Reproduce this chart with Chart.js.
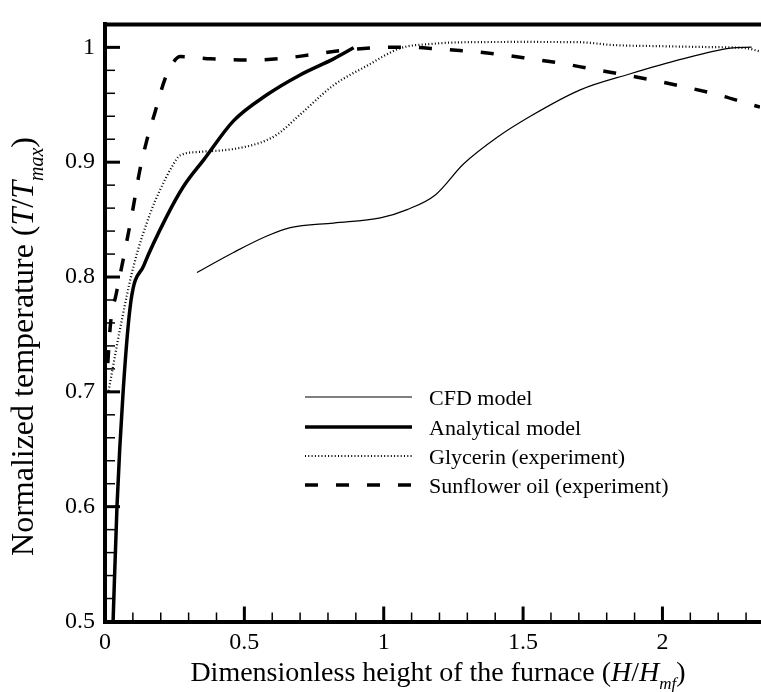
<!DOCTYPE html>
<html>
<head>
<meta charset="utf-8">
<script src="https://cdn.jsdelivr.net/npm/chart.js@4.4.1/dist/chart.umd.min.js"></script>
<style>
  html, body { margin: 0; padding: 0; background: #fff; }
  #wrap { width: 761px; height: 692px; }
</style>
</head>
<body>
<div id="wrap"><canvas id="chart" width="761" height="692"></canvas></div>
<script>
// tick labels
const xTickValues = [0, 0.5, 1, 1.5, 2];
const yTickValues = [0.5, 0.6, 0.7, 0.8, 0.9, 1];

// CFD model (thin solid)
const cfdX = [0.33, 0.461, 0.581, 0.665, 0.82, 0.988, 1.084, 1.185, 1.287, 1.406, 1.526, 1.705, 1.885, 2.065, 2.244, 2.32];
const cfdY = [0.804, 0.8214, 0.8357, 0.843, 0.847, 0.8515, 0.8587, 0.8715, 0.8986, 0.9215, 0.940, 0.963, 0.977, 0.9895, 0.9993, 1.0002];

// Analytical model (thick solid)
const analyticalX = [0.029, 0.043, 0.065, 0.093, 0.139, 0.222, 0.282, 0.354, 0.461, 0.581, 0.70, 0.82, 0.892];
const analyticalY = [0.5, 0.6, 0.7, 0.779, 0.81, 0.853, 0.879, 0.902, 0.936, 0.9587, 0.976, 0.990, 0.9996];

// Glycerin (experiment), dotted
const glycerinX = [0.013, 0.055, 0.103, 0.163, 0.198, 0.24, 0.27, 0.342, 0.461, 0.557, 0.617, 0.70, 0.82, 0.94, 1.06, 1.17, 1.3, 1.5, 1.7, 1.825, 2.0, 2.18, 2.30, 2.35];
const glycerinY = [0.701, 0.756, 0.81, 0.856, 0.876, 0.896, 0.906, 0.909, 0.9115, 0.917, 0.924, 0.9415, 0.967, 0.984, 0.9993, 1.003, 1.0045, 1.0047, 1.0045, 1.002, 1.001, 1.0002, 0.9993, 0.9964];

// Sunflower oil (experiment), dashed
const sunflowerX = [0.01, 0.02, 0.04, 0.065, 0.097, 0.125, 0.15, 0.18, 0.216, 0.245, 0.27, 0.38, 0.51, 0.62, 0.74, 0.84, 0.96, 1.08, 1.19, 1.30, 1.42, 1.53, 1.64, 1.75, 1.87, 1.98, 2.09, 2.20, 2.30, 2.35];
const sunflowerY = [0.725, 0.76, 0.785, 0.815, 0.855, 0.893, 0.919, 0.944, 0.973, 0.987, 0.992, 0.990, 0.989, 0.990, 0.9936, 0.997, 0.9995, 1.0002, 0.9987, 0.9967, 0.9938, 0.990, 0.986, 0.981, 0.9758, 0.9707, 0.965, 0.9587, 0.9515, 0.948];

const seriesNames = ['CFD model', 'Analytical model', 'Glycerin (experiment)', 'Sunflower oil (experiment)'];

const toPoints = (xs, ys) => xs.map((x, i) => ({ x: x, y: ys[i] }));
const SERIF = '"Liberation Serif", "Times New Roman", serif';

// draw a run of text pieces (normal / italic / subscript) centred on x
function drawRich(ctx, parts, cx, baseY, size) {
  const fontOf = p => (p.italic ? 'italic ' : '') + Math.round(p.sub ? size * 0.62 : size) + 'px ' + SERIF;
  let total = 0;
  parts.forEach(p => { ctx.font = fontOf(p); total += ctx.measureText(p.t).width; });
  let x = cx - total / 2;
  ctx.textAlign = 'left';
  ctx.textBaseline = 'alphabetic';
  parts.forEach(p => {
    ctx.font = fontOf(p);
    ctx.fillText(p.t, x, baseY + (p.sub ? size * 0.3 : 0));
    x += ctx.measureText(p.t).width;
  });
}

const frameAndDecor = {
  id: 'frameAndDecor',
  afterDraw(chart) {
    const { ctx, chartArea: a, scales } = chart;
    const xs = scales.x, ys = scales.y;
    ctx.save();
    ctx.strokeStyle = '#000';
    ctx.fillStyle = '#000';

    // top frame line
    ctx.lineWidth = 4;
    ctx.beginPath();
    ctx.moveTo(a.left - 2, a.top);
    ctx.lineTo(chart.width, a.top);
    ctx.stroke();

    // inward ticks on x
    for (let i = 1; i * 0.1 <= xs.max + 1e-9; i++) {
      const major = i % 5 === 0;
      const px = xs.getPixelForValue(i / 10);
      ctx.lineWidth = major ? 3 : 1.5;
      ctx.beginPath();
      ctx.moveTo(px, a.bottom);
      ctx.lineTo(px, a.bottom - (major ? 15 : 9));
      ctx.stroke();
    }
    // inward ticks on y
    for (let i = 1; 0.5 + i * 0.02 <= 1.0 + 1e-9; i++) {
      const major = i % 5 === 0;
      const py = ys.getPixelForValue(0.5 + i * 0.02);
      ctx.lineWidth = major ? 3 : 1.5;
      ctx.beginPath();
      ctx.moveTo(a.left, py);
      ctx.lineTo(a.left + (major ? 15 : 10), py);
      ctx.stroke();
    }

    // legend inside plot
    const lx = a.left + 200, lw = 107;
    const rows = [397, 427, 456, 485];
    chart.data.datasets.forEach((ds, i) => {
      ctx.lineWidth = ds.borderWidth;
      ctx.setLineDash(ds.borderDash || []);
      ctx.beginPath();
      ctx.moveTo(lx, rows[i]);
      ctx.lineTo(lx + lw, rows[i]);
      ctx.stroke();
      ctx.setLineDash([]);
      ctx.font = '22px ' + SERIF;
      ctx.textAlign = 'left';
      ctx.textBaseline = 'middle';
      ctx.fillText(ds.label, lx + lw + 17, rows[i] + 2);
    });

    // axis titles
    drawRich(ctx, [
      { t: 'Dimensionless height of the furnace (' },
      { t: 'H', italic: true },
      { t: '/' },
      { t: 'H', italic: true },
      { t: 'mf', italic: true, sub: true },
      { t: ')' }
    ], 438, 681, 28);

    ctx.save();
    ctx.translate(33, 346.5);
    ctx.rotate(-Math.PI / 2);
    drawRich(ctx, [
      { t: 'Normalized temperature (' },
      { t: 'T', italic: true },
      { t: '/' },
      { t: 'T', italic: true },
      { t: 'max', italic: true, sub: true },
      { t: ')' }
    ], 0, 0, 32);
    ctx.restore();

    ctx.restore();
  }
};

const ctx = document.getElementById('chart').getContext('2d');
new Chart(ctx, {
  type: 'line',
  data: {
    datasets: [
      { label: seriesNames[0], data: toPoints(cfdX, cfdY), borderColor: '#000', borderWidth: 1.2, pointRadius: 0, cubicInterpolationMode: 'monotone' },
      { label: seriesNames[1], data: toPoints(analyticalX, analyticalY), borderColor: '#000', borderWidth: 3.5, pointRadius: 0, cubicInterpolationMode: 'monotone' },
      { label: seriesNames[2], data: toPoints(glycerinX, glycerinY), borderColor: '#000', borderWidth: 2.2, borderDash: [1, 2.3], pointRadius: 0, cubicInterpolationMode: 'monotone' },
      { label: seriesNames[3], data: toPoints(sunflowerX, sunflowerY), borderColor: '#000', borderWidth: 3.5, borderDash: [13, 18], pointRadius: 0, cubicInterpolationMode: 'monotone' }
    ]
  },
  options: {
    responsive: false,
    animation: false,
    layout: { padding: { top: 16, right: 1, left: 0, bottom: 0 } },
    plugins: { legend: { display: false }, tooltip: { enabled: false } },
    scales: {
      x: {
        type: 'linear',
        min: 0,
        max: 2.35,
        afterBuildTicks: scale => { scale.ticks = xTickValues.map(v => ({ value: v })); },
        afterFit: scale => { scale.height = 70.5; },
        grid: { drawOnChartArea: false, drawTicks: false },
        border: { display: true, width: 4, color: '#000' },
        ticks: { padding: 7, color: '#000', font: { family: SERIF, size: 24 }, maxRotation: 0, callback: v => String(v) }
      },
      y: {
        type: 'linear',
        min: 0.5,
        max: 1.02,
        afterBuildTicks: scale => { scale.ticks = yTickValues.map(v => ({ value: v })); },
        afterFit: scale => { scale.width = 105; },
        grid: { drawOnChartArea: false, drawTicks: false },
        border: { display: true, width: 4, color: '#000' },
        ticks: { padding: 10, color: '#000', font: { family: SERIF, size: 24 }, callback: v => String(v) }
      }
    }
  },
  plugins: [frameAndDecor]
});
</script>
</body>
</html>
